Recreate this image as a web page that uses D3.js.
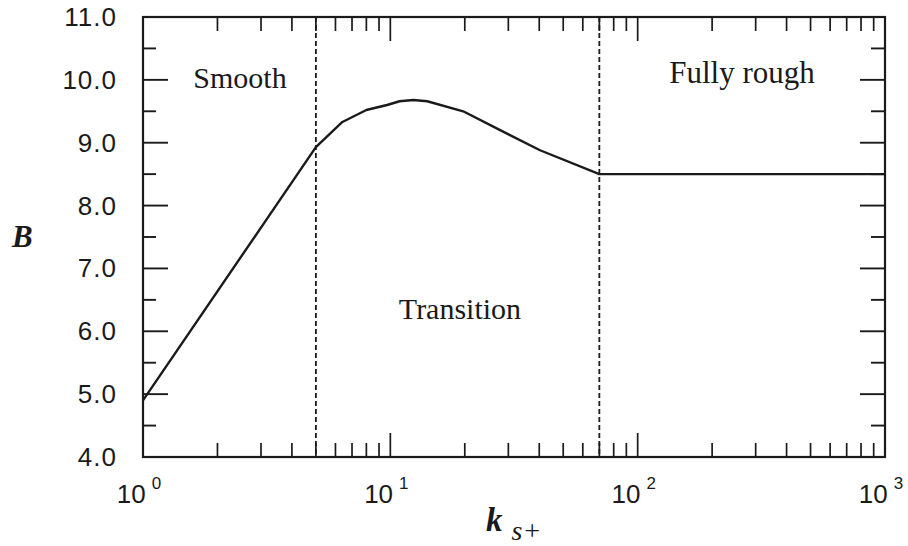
<!DOCTYPE html>
<html>
<head>
<meta charset="utf-8">
<script src="https://cdn.jsdelivr.net/npm/d3@7"></script>
<style>
  html, body { margin: 0; padding: 0; background: #fff; }
  svg { display: block; }
</style>
</head>
<body>
<svg id="chart" width="908" height="546"></svg>
<script>
// ---- data ----
const kValues = [1, 5, 6.4, 8, 9.7, 10.9, 12.4, 14.1, 19.7, 27.8, 40.3, 70, 1000];
const bValues = [4.9, 8.93, 9.33, 9.52, 9.60, 9.66, 9.68, 9.66, 9.50, 9.20, 8.88, 8.5, 8.5];
const regionBounds = [5, 70];
const regionLabels = ["Smooth", "Transition", "Fully rough"];
const yTickValues = [4, 5, 6, 7, 8, 9, 10, 11];
const xDecades = [0, 1, 2, 3];

// ---- layout ----
const L = 143, R = 885, T = 17, B = 457;
const svg = d3.select("#chart");
const x = d3.scaleLog().domain([1, 1000]).range([L, R]);
const y = d3.scaleLinear().domain([4, 11]).range([B, T]);

const ink = "#1a1a1a";

const xMinor = [];
for (let d = 0; d < 3; d++) for (let m = 2; m <= 9; m++) xMinor.push(m * Math.pow(10, d));
const xMajor = xDecades.map(d => Math.pow(10, d));
const yMinor = d3.range(4.5, 11, 1);

const g = svg.append("g");

// ticks: bottom
g.selectAll(".xbm").data(xMinor).join("line")
  .attr("x1", d => x(d)).attr("x2", d => x(d)).attr("y1", B).attr("y2", B - 14)
  .attr("stroke", ink).attr("stroke-width", 1.7);
g.selectAll(".xbM").data(xMajor).join("line")
  .attr("x1", d => x(d)).attr("x2", d => x(d)).attr("y1", B).attr("y2", B - 24)
  .attr("stroke", ink).attr("stroke-width", 1.7);
// top
g.selectAll(".xtm").data(xMinor).join("line")
  .attr("x1", d => x(d)).attr("x2", d => x(d)).attr("y1", T).attr("y2", T + 14)
  .attr("stroke", ink).attr("stroke-width", 1.7);
g.selectAll(".xtM").data(xMajor).join("line")
  .attr("x1", d => x(d)).attr("x2", d => x(d)).attr("y1", T).attr("y2", T + 24)
  .attr("stroke", ink).attr("stroke-width", 1.7);
// left
g.selectAll(".ylM").data(yTickValues).join("line")
  .attr("x1", L).attr("x2", L + 25).attr("y1", d => y(d)).attr("y2", d => y(d))
  .attr("stroke", ink).attr("stroke-width", 1.9);
g.selectAll(".ylm").data(yMinor).join("line")
  .attr("x1", L).attr("x2", L + 13).attr("y1", d => y(d)).attr("y2", d => y(d))
  .attr("stroke", ink).attr("stroke-width", 1.9);
// right
g.selectAll(".yrM").data(yTickValues).join("line")
  .attr("x1", R).attr("x2", R - 25).attr("y1", d => y(d)).attr("y2", d => y(d))
  .attr("stroke", ink).attr("stroke-width", 1.9);
g.selectAll(".yrm").data(yMinor).join("line")
  .attr("x1", R).attr("x2", R - 14).attr("y1", d => y(d)).attr("y2", d => y(d))
  .attr("stroke", ink).attr("stroke-width", 1.9);

// frame
g.append("rect").attr("x", L).attr("y", T).attr("width", R - L).attr("height", B - T)
  .attr("fill", "none").attr("stroke", ink).attr("stroke-width", 2.2);

// region boundaries
g.selectAll(".bound").data(regionBounds).join("line")
  .attr("x1", d => x(d)).attr("x2", d => x(d)).attr("y1", T).attr("y2", B)
  .attr("stroke", ink).attr("stroke-width", 1.8).attr("stroke-dasharray", "5,3");

// curve
const pts = kValues.map((k, i) => [k, bValues[i]]);
g.append("path").datum(pts)
  .attr("d", d3.line().x(d => x(d[0])).y(d => y(d[1])).curve(d3.curveLinear))
  .attr("fill", "none").attr("stroke", ink).attr("stroke-width", 2.4)
  .attr("stroke-linejoin", "round");

// y tick labels
g.selectAll(".ylab").data(yTickValues).join("text")
  .attr("x", L - 26).attr("y", d => y(d))
  .attr("text-anchor", "end").attr("dominant-baseline", "central")
  .attr("font-family", "Liberation Sans, Arial, sans-serif").attr("font-size", 26)
  .attr("letter-spacing", 1)
  .attr("fill", ink)
  .text(d => d.toFixed(1));

// x tick labels
const xl = g.selectAll(".xlab").data(xDecades).join("text")
  .attr("x", d => x(Math.pow(10, d)) - 4).attr("y", 503)
  .attr("text-anchor", "middle")
  .attr("font-family", "Liberation Sans, Arial, sans-serif").attr("font-size", 26)
  .attr("fill", ink);
xl.append("tspan").text("10");
xl.append("tspan").attr("dx", 6).attr("dy", -14).attr("font-size", 17).text(d => d);

// region labels
const serif = "Liberation Serif, 'Times New Roman', serif";
g.append("text").attr("x", 240).attr("y", 88).attr("text-anchor", "middle")
  .attr("font-family", serif).attr("font-size", 30).attr("fill", ink).text(regionLabels[0]);
g.append("text").attr("x", 460).attr("y", 319).attr("text-anchor", "middle")
  .attr("font-family", serif).attr("font-size", 30).attr("fill", ink).text(regionLabels[1]);
g.append("text").attr("x", 742).attr("y", 83).attr("text-anchor", "middle")
  .attr("font-family", serif).attr("font-size", 31).attr("fill", ink).text(regionLabels[2]);

// axis titles
g.append("text").attr("x", 12).attr("y", 247)
  .attr("font-family", serif).attr("font-size", 31).attr("font-weight", "bold")
  .attr("font-style", "italic").attr("fill", ink).text("B");
const kt = g.append("text").attr("x", 486).attr("y", 531)
  .attr("font-family", serif).attr("font-size", 33).attr("font-weight", "bold")
  .attr("font-style", "italic").attr("fill", ink);
kt.append("tspan").text("k");
kt.append("tspan").attr("dx", 9).attr("dy", 9).attr("font-size", 28)
  .attr("font-weight", "normal").text("s+");
</script>
</body>
</html>
